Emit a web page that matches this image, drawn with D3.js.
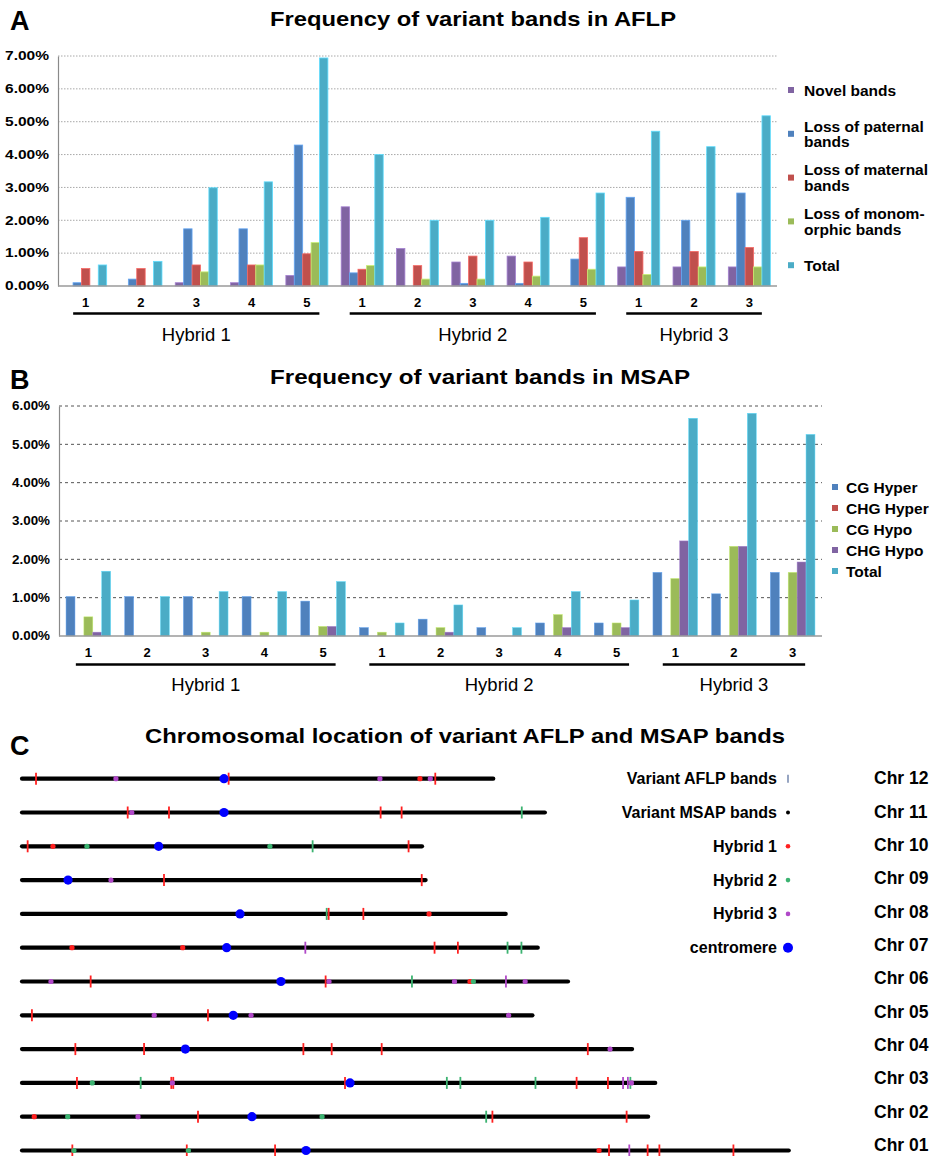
<!DOCTYPE html>
<html>
<head>
<meta charset="utf-8">
<script src="https://cdn.jsdelivr.net/npm/d3@7"></script>
<style>
  body { margin: 0; background: #fff; }
  svg text { font-family: "Liberation Sans", Arial, sans-serif; fill: #000; }
</style>
</head>
<body>
<svg id="fig" width="938" height="1156"></svg>
<script>
//Colores fijos
const COLOR_PURPLE = '#8064A2',
    COLOR_BLUE = '#4F81BD',
    COLOR_RED = '#C0504D',
    COLOR_GREEN = '#9BBB59',
    COLOR_CYAN = '#4BACC6';

const HYB_COLORS = ['#ff2020', '#3cb371', '#b048c8'];

//Categorías comunes a A y B
const categorias = ['1','2','3','4','5','1','2','3','4','5','1','2','3'];
const hibridos = ['Hybrid 1','Hybrid 2','Hybrid 3'];
const hibridoTamano = [5, 5, 3];

//Panel A - AFLP (%)
const legendAflp = [['Novel bands'], ['Loss of paternal','bands'], ['Loss of maternal','bands'], ['Loss of monom-','orphic bands'], ['Total']];
const aflpNovel      = [0, 0, 0.10, 0.10, 0.32, 2.41, 1.14, 0.73, 0.91, 0, 0.58, 0.58, 0.58];
const aflpPaternal   = [0.10, 0.21, 1.74, 1.74, 4.29, 0.40, 0, 0.08, 0.08, 0.82, 2.70, 2.00, 2.83];
const aflpMaternal   = [0.53, 0.53, 0.64, 0.64, 0.98, 0.51, 0.62, 0.91, 0.73, 1.47, 1.05, 1.05, 1.17];
const aflpMonomorph  = [0, 0, 0.43, 0.64, 1.32, 0.62, 0.21, 0.21, 0.30, 0.51, 0.35, 0.58, 0.58];
const aflpTotal      = [0.64, 0.75, 2.99, 3.17, 6.94, 4.00, 2.00, 2.00, 2.09, 2.83, 4.71, 4.24, 5.18];

//Panel B - MSAP (%)
const legendMsap = ['CG Hyper', 'CHG Hyper', 'CG Hypo', 'CHG Hypo', 'Total'];
const msapCgHyper  = [1.03, 1.03, 1.03, 1.03, 0.91, 0.22, 0.44, 0.22, 0.34, 0.34, 1.66, 1.10, 1.66];
const msapChgHyper = [0, 0, 0, 0, 0, 0, 0, 0, 0, 0, 0, 0, 0];
const msapCgHypo   = [0.50, 0, 0.10, 0.10, 0.25, 0.10, 0.22, 0, 0.56, 0.34, 1.50, 2.34, 1.66];
const msapChgHypo  = [0.10, 0, 0, 0, 0.25, 0, 0.10, 0, 0.22, 0.22, 2.48, 2.34, 1.93];
const msapTotal    = [1.69, 1.03, 1.16, 1.16, 1.42, 0.34, 0.81, 0.22, 1.16, 0.94, 5.68, 5.81, 5.26];

//Panel C - cromosomas (Mb)
const chrNames   = ['Chr 12','Chr 11','Chr 10','Chr 09','Chr 08','Chr 07','Chr 06','Chr 05','Chr 04','Chr 03','Chr 02','Chr 01'];
const chrLengths = [26.7, 29.6, 22.7, 22.9, 27.4, 29.2, 30.9, 28.9, 34.5, 35.8, 35.4, 43.3];
const centromeres = [11.46, 11.46, 7.79, 2.70, 12.36, 11.61, 14.66, 11.98, 9.29, 18.54, 13.03, 16.07];
// [cromosoma, posición Mb, híbrido]
const aflpBands = [
  ['Chr 12',0.9,1],['Chr 12',11.72,1],['Chr 12',23.33,1],
  ['Chr 11',6.05,1],['Chr 11',8.37,1],['Chr 11',20.26,1],['Chr 11',21.44,1],['Chr 11',28.19,2],
  ['Chr 10',0.43,1],['Chr 10',16.44,2],['Chr 10',21.83,1],
  ['Chr 09',8.09,1],['Chr 09',22.57,1],
  ['Chr 08',17.23,2],['Chr 08',17.34,1],['Chr 08',19.29,1],
  ['Chr 07',16.03,3],['Chr 07',23.29,1],['Chr 07',24.6,1],['Chr 07',27.39,2],['Chr 07',28.17,2],
  ['Chr 06',3.97,1],['Chr 06',17.17,1],['Chr 06',22.02,2],['Chr 06',27.3,3],
  ['Chr 05',0.67,1],['Chr 05',10.56,1],
  ['Chr 04',3.11,1],['Chr 04',6.97,1],['Chr 04',15.92,1],['Chr 04',17.51,1],['Chr 04',20.32,1],['Chr 04',31.9,1],
  ['Chr 03',3.2,1],['Chr 03',6.78,2],['Chr 03',8.5,1],['Chr 03',8.61,1],['Chr 03',18.26,1],['Chr 03',23.98,2],['Chr 03',24.74,2],
  ['Chr 03',28.96,2],['Chr 03',31.27,1],['Chr 03',33.03,1],['Chr 03',33.88,3],['Chr 03',34.15,3],['Chr 03',34.29,2],
  ['Chr 02',10.0,1],['Chr 02',26.19,2],['Chr 02',26.54,1],['Chr 02',34.08,1],
  ['Chr 01',2.94,1],['Chr 01',9.37,1],['Chr 01',14.33,1],['Chr 01',33.09,1],['Chr 01',34.23,3],['Chr 01',35.26,1],['Chr 01',35.92,1],['Chr 01',40.08,1]
];
const msapBands = [
  ['Chr 12',5.39,3],['Chr 12',20.22,3],['Chr 12',22.47,1],['Chr 12',23.05,3],
  ['Chr 11',6.28,3],
  ['Chr 10',1.85,1],['Chr 10',3.76,2],['Chr 10',14.04,2],
  ['Chr 09',5.11,3],
  ['Chr 08',22.98,1],
  ['Chr 07',2.92,1],['Chr 07',9.14,1],
  ['Chr 06',1.74,3],['Chr 06',17.36,3],['Chr 06',24.41,3],['Chr 06',25.28,1],['Chr 06',25.47,2],['Chr 06',28.38,3],
  ['Chr 05',7.54,3],['Chr 05',12.98,3],['Chr 05',27.45,3],
  ['Chr 04',33.15,3],
  ['Chr 03',4.06,2],['Chr 03',8.56,3],['Chr 03',34.35,3],
  ['Chr 02',0.8,1],['Chr 02',2.68,2],['Chr 02',6.63,3],['Chr 02',16.97,2],
  ['Chr 01',3.03,2],['Chr 01',9.46,2],['Chr 01',32.53,1]
];
const legendCrom = ['Variant AFLP bands','Variant MSAP bands','Hybrid 1','Hybrid 2','Hybrid 3','centromere'];

const svg = d3.select('#fig');

//Letras y títulos
function titulo(letra, ly, texto, cx, ty, largo) {
    svg.append('text').attr('x', 10).attr('y', ly)
        .attr('font-size', 27).attr('font-weight', 'bold').text(letra);
    svg.append('text').attr('x', cx).attr('y', ty)
        .attr('text-anchor', 'middle').attr('font-size', 21).attr('font-weight', 'bold')
        .attr('textLength', largo).attr('lengthAdjust', 'spacingAndGlyphs')
        .text(texto);
}
titulo('A', 30, 'Frequency of variant bands in AFLP', 473, 26, 406);
titulo('B', 389, 'Frequency of variant bands in MSAP', 480, 384, 420);
titulo('C', 755, 'Chromosomal location of variant AFLP and MSAP bands', 465, 743, 640);

//Gráfico de barras agrupadas
function panelBarras(cfg) {
    let g = svg.append('g');

    let x0 = d3.scaleBand()
        .domain(d3.range(categorias.length))
        .range([cfg.left, cfg.right])
        .paddingInner(0.24).paddingOuter(0.12);

    let x1 = d3.scaleBand()
        .domain(d3.range(cfg.series.length))
        .range([0, x0.bandwidth()]);

    let y = d3.scaleLinear()
        .domain([0, cfg.yMax])
        .range([cfg.bottom, cfg.top]);

    //Rejilla
    g.append('g').selectAll('line')
        .data(d3.range(1, cfg.yMax + 1))
        .join('line')
        .attr('x1', cfg.left).attr('x2', cfg.right)
        .attr('y1', d => y(d)).attr('y2', d => y(d))
        .attr('stroke', cfg.gridColor)
        .attr('stroke-dasharray', cfg.gridDash);

    let yAxis = g.append('g')
        .attr('transform', 'translate(' + cfg.left + ',0)')
        .call(d3.axisLeft(y).ticks(cfg.yMax).tickSize(0).tickPadding(9)
            .tickFormat(d => d3.format('.2f')(d) + '%'));
    yAxis.select('.domain').attr('stroke', '#8a8a8a').attr('stroke-width', 1.2);
    yAxis.selectAll('text')
        .attr('font-size', 12).attr('font-weight', 'bold')
        .attr('font-family', '"Liberation Sans", Arial, sans-serif')
        .attr('fill', '#111')
        .attr('textLength', cfg.tickLen).attr('lengthAdjust', 'spacingAndGlyphs');

    //Barras
    cfg.series.forEach(function(valores, j) {
        g.append('g')
            .attr('fill', cfg.colors[j])
            .attr('stroke', d3.color(cfg.colors[j]).brighter(0.7))
            .attr('stroke-width', cfg.barStroke)
            .selectAll('rect')
            .data(valores.map((v, i) => ({i: i, v: v})).filter(d => d.v > 0))
            .join('rect')
            .attr('x', d => x0(d.i) + x1(j))
            .attr('width', x1.bandwidth())
            .attr('y', d => y(d.v))
            .attr('height', d => y(0) - y(d.v));
    });

    //Línea base
    g.append('line')
        .attr('x1', cfg.left).attr('x2', cfg.right)
        .attr('y1', y(0)).attr('y2', y(0))
        .attr('stroke', '#9a9a9a').attr('stroke-width', 1.5);

    //Etiquetas de categoría
    g.append('g').selectAll('text')
        .data(categorias)
        .join('text')
        .attr('x', (d, i) => x0(i) + x0.bandwidth() / 2)
        .attr('y', cfg.catY)
        .attr('text-anchor', 'middle')
        .attr('font-size', 13).attr('font-weight', 'bold')
        .text(d => d);

    //Grupos de híbridos
    let inicio = 0;
    hibridos.forEach(function(h, k) {
        let fin = inicio + hibridoTamano[k] - 1;
        let xa = x0(inicio) + x0.bandwidth() / 2 - 12.5,
            xb = x0(fin) + x0.bandwidth() / 2 + 12.5;
        g.append('line')
            .attr('x1', xa).attr('x2', xb)
            .attr('y1', cfg.lineY).attr('y2', cfg.lineY)
            .attr('stroke', '#000').attr('stroke-width', 2.5);
        g.append('text')
            .attr('x', (xa + xb) / 2).attr('y', cfg.hybY)
            .attr('text-anchor', 'middle').attr('font-size', 18.5)
            .text(h);
        inicio = fin + 1;
    });
}

panelBarras({
    left: 58, right: 777, top: 56, bottom: 286, yMax: 7,
    series: [aflpNovel, aflpPaternal, aflpMaternal, aflpMonomorph, aflpTotal],
    colors: [COLOR_PURPLE, COLOR_BLUE, COLOR_RED, COLOR_GREEN, COLOR_CYAN],
    gridColor: '#a8a8a8', gridDash: '1.5,1.5', tickLen: 44, barStroke: 0.8,
    catY: 306.5, lineY: 313.5, hybY: 341
});

panelBarras({
    left: 59, right: 822, top: 406, bottom: 636, yMax: 6,
    series: [msapCgHyper, msapChgHyper, msapCgHypo, msapChgHypo, msapTotal],
    colors: [COLOR_BLUE, COLOR_RED, COLOR_GREEN, COLOR_PURPLE, COLOR_CYAN],
    gridColor: '#555', gridDash: '3,3', tickLen: 38, barStroke: 0.5,
    catY: 656.5, lineY: 664.5, hybY: 691
});

//Leyenda A
const colorsA = [COLOR_PURPLE, COLOR_BLUE, COLOR_RED, COLOR_GREEN, COLOR_CYAN];
legendAflp.forEach(function(lineas, i) {
    let cy = 90 + i * 43.8;
    svg.append('rect').attr('x', 788).attr('y', cy - 3).attr('width', 6).attr('height', 6)
        .attr('fill', colorsA[i]);
    let t = svg.append('text').attr('x', 804).attr('font-size', 15.5).attr('font-weight', 'bold');
    lineas.forEach(function(l, k) {
        t.append('tspan').attr('x', 804)
            .attr('y', cy + 5.5 + (k - (lineas.length - 1) / 2) * 15.5)
            .text(l);
    });
});

//Leyenda B
const colorsB = [COLOR_BLUE, COLOR_RED, COLOR_GREEN, COLOR_PURPLE, COLOR_CYAN];
legendMsap.forEach(function(l, i) {
    let cy = 487 + i * 21;
    svg.append('rect').attr('x', 832).attr('y', cy - 3).attr('width', 6).attr('height', 6)
        .attr('fill', colorsB[i]);
    svg.append('text').attr('x', 846).attr('y', cy + 5.5)
        .attr('font-size', 15.5).attr('font-weight', 'bold').text(l);
});

//Panel C - cromosomas
let xc = d3.scaleLinear().domain([0, 43.3]).range([20, 20 + 43.3 * 17.8]);
let yc = d3.scalePoint().domain(chrNames).range([778.7, 1150.5]);

let gc = svg.append('g');

gc.selectAll('line.chr')
    .data(chrNames)
    .join('line')
    .attr('class', 'chr')
    .attr('x1', xc(0) + 2)
    .attr('x2', (d, i) => xc(chrLengths[i]) - 2)
    .attr('y1', d => yc(d)).attr('y2', d => yc(d))
    .attr('stroke', '#000').attr('stroke-width', 4.2).attr('stroke-linecap', 'round');

gc.selectAll('line.aflp')
    .data(aflpBands)
    .join('line')
    .attr('class', 'aflp')
    .attr('x1', d => xc(d[1])).attr('x2', d => xc(d[1]))
    .attr('y1', d => yc(d[0]) - 6).attr('y2', d => yc(d[0]) + 6)
    .attr('stroke', d => HYB_COLORS[d[2] - 1]).attr('stroke-width', 1.8);

gc.selectAll('circle.msap')
    .data(msapBands)
    .join('circle')
    .attr('class', 'msap')
    .attr('cx', d => xc(d[1])).attr('cy', d => yc(d[0]))
    .attr('r', 2.6)
    .attr('fill', d => HYB_COLORS[d[2] - 1]);

gc.selectAll('circle.cen')
    .data(chrNames)
    .join('circle')
    .attr('class', 'cen')
    .attr('cx', (d, i) => xc(centromeres[i])).attr('cy', d => yc(d))
    .attr('r', 4.6).attr('fill', '#0000ff');

gc.selectAll('text.chrname')
    .data(chrNames)
    .join('text')
    .attr('class', 'chrname')
    .attr('x', 874).attr('y', (d, i) => yc(d) + 5.5 - i * 0.45)
    .attr('font-size', 17.5).attr('font-weight', 'bold')
    .text(d => d);

//Leyenda C
legendCrom.forEach(function(l, i) {
    let cy = yc(chrNames[i]);
    svg.append('text').attr('x', 777).attr('y', cy + 5.5)
        .attr('text-anchor', 'end').attr('font-size', 16).attr('font-weight', 'bold')
        .text(l);
    if (i === 0) {
        svg.append('line').attr('x1', 788).attr('x2', 788).attr('y1', cy - 4).attr('y2', cy + 4)
            .attr('stroke', '#6a7fa8').attr('stroke-width', 1.4);
    } else if (i === 1) {
        svg.append('circle').attr('cx', 788).attr('cy', cy).attr('r', 2).attr('fill', '#000');
    } else if (i < 5) {
        svg.append('circle').attr('cx', 788).attr('cy', cy).attr('r', 2.3).attr('fill', HYB_COLORS[i - 2]);
    } else {
        svg.append('circle').attr('cx', 788).attr('cy', cy).attr('r', 5).attr('fill', '#0000ff');
    }
});
</script>
</body>
</html>
